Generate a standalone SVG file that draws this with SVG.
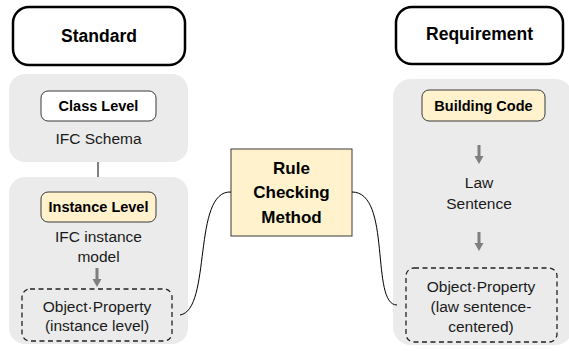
<svg xmlns="http://www.w3.org/2000/svg" width="569" height="351" viewBox="0 0 569 351">
  <defs>
    <style>
      .head { fill: #ffffff; stroke: #000000; stroke-width: 2.5; }
      .panel { fill: #ebebeb; stroke: none; }
      .tag { stroke: #3a3a3a; stroke-width: 1; }
      .white { fill: #ffffff; }
      .cream { fill: #fff2cc; }
      .dash { fill: none; stroke: #222222; stroke-width: 1.3; stroke-dasharray: 5 3.5; }
      .wire { fill: none; stroke: #000000; stroke-width: 1; }
      .flow { fill: #7f7f7f; }
      text { font-family: "Liberation Sans", Arial, sans-serif; text-anchor: middle; fill: #000000; }
      .t-head { font-size: 17.5px; font-weight: bold; }
      .t-tag { font-size: 14.5px; font-weight: bold; }
      .t-body { font-size: 15.5px; fill: #1a1a1a; }
      .t-rule { font-size: 17px; font-weight: bold; }
    </style>
    <!-- small grey down arrow -->
    <path id="down" d="M-1.5,0 H1.5 V11 H4.5 L0,19 L-4.5,11 H-1.5 Z"/>
  </defs>

  <!-- left column -->
  <g id="standard">
    <rect class="head" x="13" y="7" width="172" height="58" rx="16"/>
    <text class="t-head" x="99" y="42">Standard</text>
  </g>

  <g id="class-panel">
    <rect class="panel" x="9" y="74" width="179" height="88" rx="16"/>
    <rect class="tag white" x="41" y="91" width="115" height="30" rx="7"/>
    <text class="t-tag" x="98.5" y="111">Class Level</text>
    <text class="t-body" x="98.5" y="144">IFC Schema</text>
  </g>

  <g id="instance-panel">
    <rect class="panel" x="9" y="177" width="179" height="167" rx="16"/>
    <rect class="tag cream" x="41" y="192" width="115" height="30" rx="7"/>
    <text class="t-tag" x="98.5" y="212">Instance Level</text>
    <text class="t-body" x="98.5" y="242">IFC instance</text>
    <text class="t-body" x="98.5" y="262">model</text>
    <use href="#down" class="flow" x="97" y="268"/>
    <rect class="dash" x="22" y="289" width="150" height="52" rx="8"/>
    <text class="t-body" x="97" y="312">Object·Property</text>
    <text class="t-body" x="97" y="331">(instance level)</text>
  </g>

  <!-- centre -->
  <g id="rule-checking">
    <rect class="cream" x="231" y="149" width="121" height="87" stroke="#3a3a3a" stroke-width="1"/>
    <text class="t-rule" x="291.5" y="174">Rule</text>
    <text class="t-rule" x="291.5" y="198">Checking</text>
    <text class="t-rule" x="291.5" y="223">Method</text>
  </g>

  <!-- right column -->
  <g id="requirement">
    <rect class="head" x="396" y="7" width="167" height="57" rx="16"/>
    <text class="t-head" x="479.5" y="40">Requirement</text>
  </g>

  <g id="requirement-panel">
    <rect class="panel" x="393" y="79" width="180" height="266" rx="18"/>
    <rect class="tag cream" x="422" y="90" width="123" height="31" rx="7"/>
    <text class="t-tag" x="483.5" y="111">Building Code</text>
    <use href="#down" class="flow" x="479" y="145"/>
    <text class="t-body" x="479" y="188">Law</text>
    <text class="t-body" x="479" y="209">Sentence</text>
    <use href="#down" class="flow" x="479" y="232"/>
    <rect class="dash" x="406" y="268" width="151" height="74" rx="8"/>
    <text class="t-body" x="481" y="292">Object·Property</text>
    <text class="t-body" x="481" y="312">(law sentence-</text>
    <text class="t-body" x="481" y="332">centered)</text>
  </g>

  <!-- connectors -->
  <g id="connectors">
    <line class="wire" x1="98" y1="162" x2="98" y2="177"/>
    <path class="wire" d="M180,315 C212,310 192,190 231,192"/>
    <path class="wire" d="M352,192 C392,192 370,305 397,305"/>
  </g>
</svg>
